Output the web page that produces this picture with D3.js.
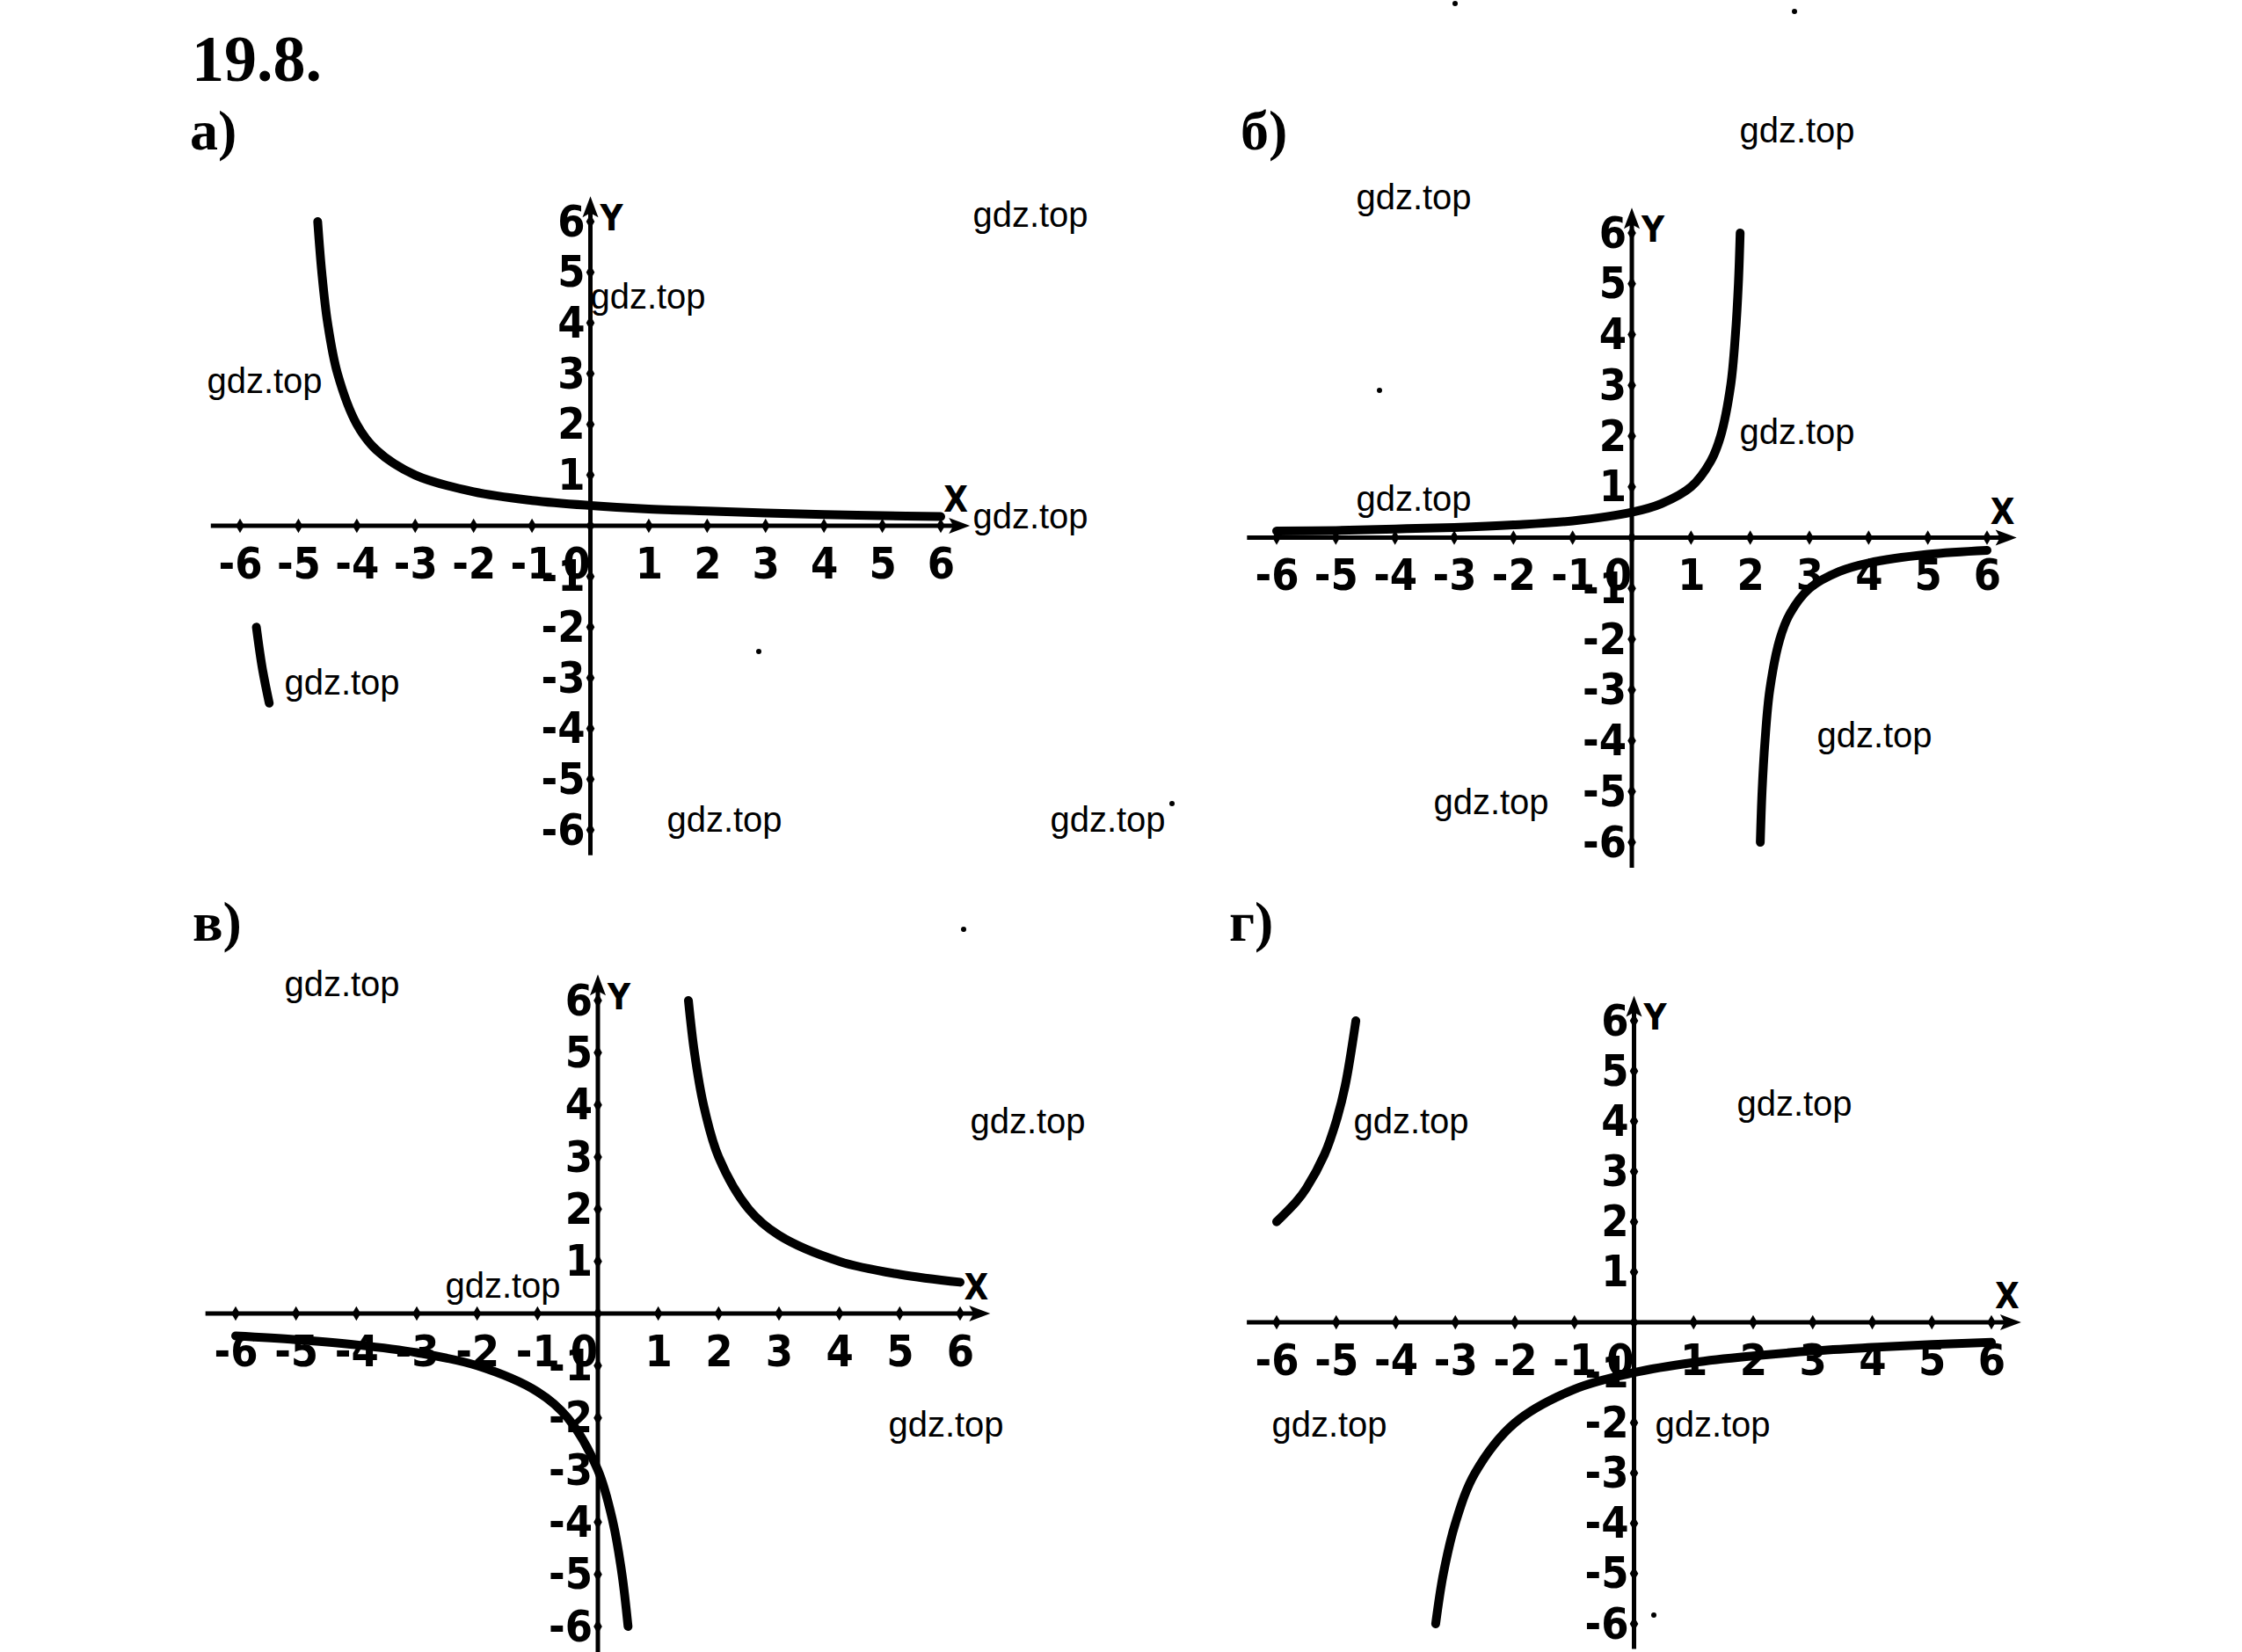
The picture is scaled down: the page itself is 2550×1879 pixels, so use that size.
<!DOCTYPE html>
<html>
<head>
<meta charset="utf-8">
<script src="https://cdn.jsdelivr.net/npm/d3@7"></script>
<style>
  body { margin: 0; background: #fff; }
  svg { display: block; }
  .tick text { font-family: 'DejaVu Sans Condensed', 'DejaVu Sans', sans-serif; font-weight: bold; font-stretch: condensed; fill: #000; }
  .stamp { font-family: 'Liberation Sans', Arial, sans-serif; font-size: 40px; fill: #000; }
  .head { font-family: 'Liberation Serif', 'DejaVu Serif', serif; font-weight: bold; fill: #000; }
  .axname { font-family: 'DejaVu Sans Condensed', 'DejaVu Sans', sans-serif; font-weight: bold; font-size: 40px; fill: #000; }
</style>
</head>
<body>
<div id="viz"></div>
<script>
// tick values (same on every panel)
const xTickVals = [-6, -5, -4, -3, -2, -1, 0, 1, 2, 3, 4, 5, 6];
const yTickVals = [-6, -5, -4, -3, -2, -1, 1, 2, 3, 4, 5, 6];
const panelTitles = ['а)', 'б)', 'в)', 'г)'];
const taskTitle = '19.8.';

// branches, points
const branchA1 = [[-4.67, 6], [-4.6, 5], [-4.5, 4], [-4.33, 3], [-4, 2], [-3.67, 1.5], [-3, 1], [-2, 0.67],
                  [-1, 0.5], [0, 0.4], [1, 0.33], [2, 0.29], [3, 0.25], [4, 0.22], [5, 0.2], [6, 0.18]];
const branchA2 = [[-5.72, -2.0], [-5.62, -2.8], [-5.5, -3.5]];

const branchB1 = [[-6, 0.13], [-5, 0.14], [-4, 0.17], [-3, 0.2], [-2, 0.25], [-1, 0.33], [0, 0.5], [0.5, 0.67],
                  [1, 1], [1.33, 1.5], [1.5, 2], [1.67, 3], [1.75, 4], [1.8, 5], [1.83, 6]];
const branchB2 = [[2.17, -6], [2.2, -5], [2.25, -4], [2.33, -3], [2.5, -2], [2.67, -1.5], [3, -1], [3.5, -0.67],
                  [4, -0.5], [5, -0.33], [6, -0.25]];

const branchC1 = [[1.5, 6], [1.6, 5], [1.75, 4], [2, 3], [2.5, 2], [3, 1.5], [4, 1], [5, 0.75], [6, 0.6]];
const branchC2 = [[-6, -0.43], [-5, -0.5], [-4, -0.6], [-3, -0.75], [-2, -1], [-1, -1.5], [-0.5, -2], [0, -3],
                  [0.25, -4], [0.4, -5], [0.5, -6]];

const branchD1 = [[-6, 2], [-5.67, 2.4], [-5.5, 2.67], [-5.2, 3.33], [-5, 4], [-4.85, 4.7], [-4.67, 6]];
const branchD2 = [[-3.33, -6], [-3.2, -5], [-3, -4], [-2.67, -3], [-2, -2], [-1, -1.33], [0, -1], [1, -0.8],
                  [2, -0.67], [3, -0.57], [4, -0.5], [5, -0.44], [6, -0.4]];

// page layout
const W = 2550, H = 1879;
const frames = [
  { xr: [273, 1070], yr: [944, 252], head: [216, 170], branches: [branchA1, branchA2] },
  { xr: [1452, 2260], yr: [958, 265], head: [1411, 170], branches: [branchB1, branchB2] },
  { xr: [268, 1092], yr: [1850, 1138], head: [219, 1070], branches: [branchC1, branchC2] },
  { xr: [1452, 2265], yr: [1847, 1161], head: [1398, 1070], branches: [branchD1, branchD2] }
];
const stampSpots = [[1172, 244], [737, 337], [301, 433], [1172, 587], [389, 776], [824, 932], [1260, 932],
                    [2044, 148], [1608, 224], [2044, 491], [1608, 567], [2132, 836], [1696, 912],
                    [389, 1119], [1169, 1275], [572, 1462], [1076, 1620],
                    [1605, 1275], [2041, 1255], [1512, 1620], [1948, 1620]];
const specks = [[1569, 444], [863, 741], [1096, 1057], [1655, 4], [2041, 13], [1333, 914], [1881, 1837]];

const svg = d3.select('#viz').append('svg')
  .attr('width', W).attr('height', H)
  .attr('viewBox', `0 0 ${W} ${H}`);

svg.append('text').attr('class', 'head')
  .attr('x', 218).attr('y', 92)
  .style('font-size', '74px')
  .text(taskTitle);

frames.forEach((f, i) => {
  const x = d3.scaleLinear().domain([-6, 6]).range(f.xr);
  const y = d3.scaleLinear().domain([-6, 6]).range(f.yr);
  const g = svg.append('g');
  const x0 = x(0), y0 = y(0);

  g.append('text').attr('class', 'head')
    .attr('x', f.head[0]).attr('y', f.head[1])
    .style('font-size', '64px')
    .text(panelTitles[i]);

  // axis lines with arrows
  const xl = x(-6.5), xrEnd = x(6.5), yb = y(-6.5), yt = y(6.5);
  g.append('line').attr('x1', xl).attr('x2', xrEnd - 10).attr('y1', y0).attr('y2', y0)
    .attr('stroke', '#000').attr('stroke-width', 5);
  g.append('line').attr('x1', x0).attr('x2', x0).attr('y1', yb).attr('y2', yt + 10)
    .attr('stroke', '#000').attr('stroke-width', 5);
  g.append('path')
    .attr('d', `M${xrEnd},${y0} L${xrEnd - 24},${y0 - 9} L${xrEnd - 19},${y0} L${xrEnd - 24},${y0 + 9} Z`)
    .attr('fill', '#000');
  g.append('path')
    .attr('d', `M${x0},${yt} L${x0 - 9},${yt + 24} L${x0},${yt + 19} L${x0 + 9},${yt + 24} Z`)
    .attr('fill', '#000');

  // tick dots
  const diamond = d3.symbol().type(d3.symbolDiamond).size(80);
  g.selectAll('.xdot').data(xTickVals).enter().append('path')
    .attr('d', diamond).attr('transform', d => `translate(${x(d)},${y0})`);
  g.selectAll('.ydot').data(yTickVals).enter().append('path')
    .attr('d', diamond).attr('transform', d => `translate(${x0},${y(d)})`);

  // tick labels
  const xAxis = g.append('g')
    .attr('transform', `translate(0, ${y0})`)
    .call(d3.axisBottom(x).tickValues(xTickVals).tickSize(0).tickPadding(24).tickFormat(d => String(d)));
  xAxis.select('.domain').remove();
  xAxis.selectAll('text').style('font-size', '50px');
  xAxis.selectAll('.tick').filter(d => d === 0).select('text').attr('x', -16);

  const yAxis = g.append('g')
    .attr('transform', `translate(${x0}, 0)`)
    .call(d3.axisLeft(y).tickValues(yTickVals).tickSize(0).tickPadding(6).tickFormat(d => String(d)));
  yAxis.select('.domain').remove();
  yAxis.selectAll('text').style('font-size', '50px');

  g.append('text').attr('class', 'axname')
    .attr('x', xrEnd - 16).attr('y', y0 - 16).attr('text-anchor', 'middle')
    .text('X');
  g.append('text').attr('class', 'axname')
    .attr('x', x0 + 24).attr('y', y(6) + 10).attr('text-anchor', 'middle')
    .text('Y');

  // graph branches
  const line = d3.line().x(d => x(d[0])).y(d => y(d[1])).curve(d3.curveCatmullRom);
  g.selectAll('.branch').data(f.branches).enter().append('path')
    .attr('class', 'branch')
    .attr('d', line)
    .attr('fill', 'none')
    .attr('stroke', '#000')
    .attr('stroke-width', 10)
    .attr('stroke-linecap', 'round');
});

svg.selectAll('.stamp').data(stampSpots).enter().append('text')
  .attr('class', 'stamp')
  .attr('x', d => d[0]).attr('y', d => d[1] + 14)
  .attr('text-anchor', 'middle')
  .text('gdz.top');

svg.selectAll('.speck').data(specks).enter().append('circle')
  .attr('cx', d => d[0]).attr('cy', d => d[1]).attr('r', 3).attr('fill', '#000');
</script>
</body>
</html>
